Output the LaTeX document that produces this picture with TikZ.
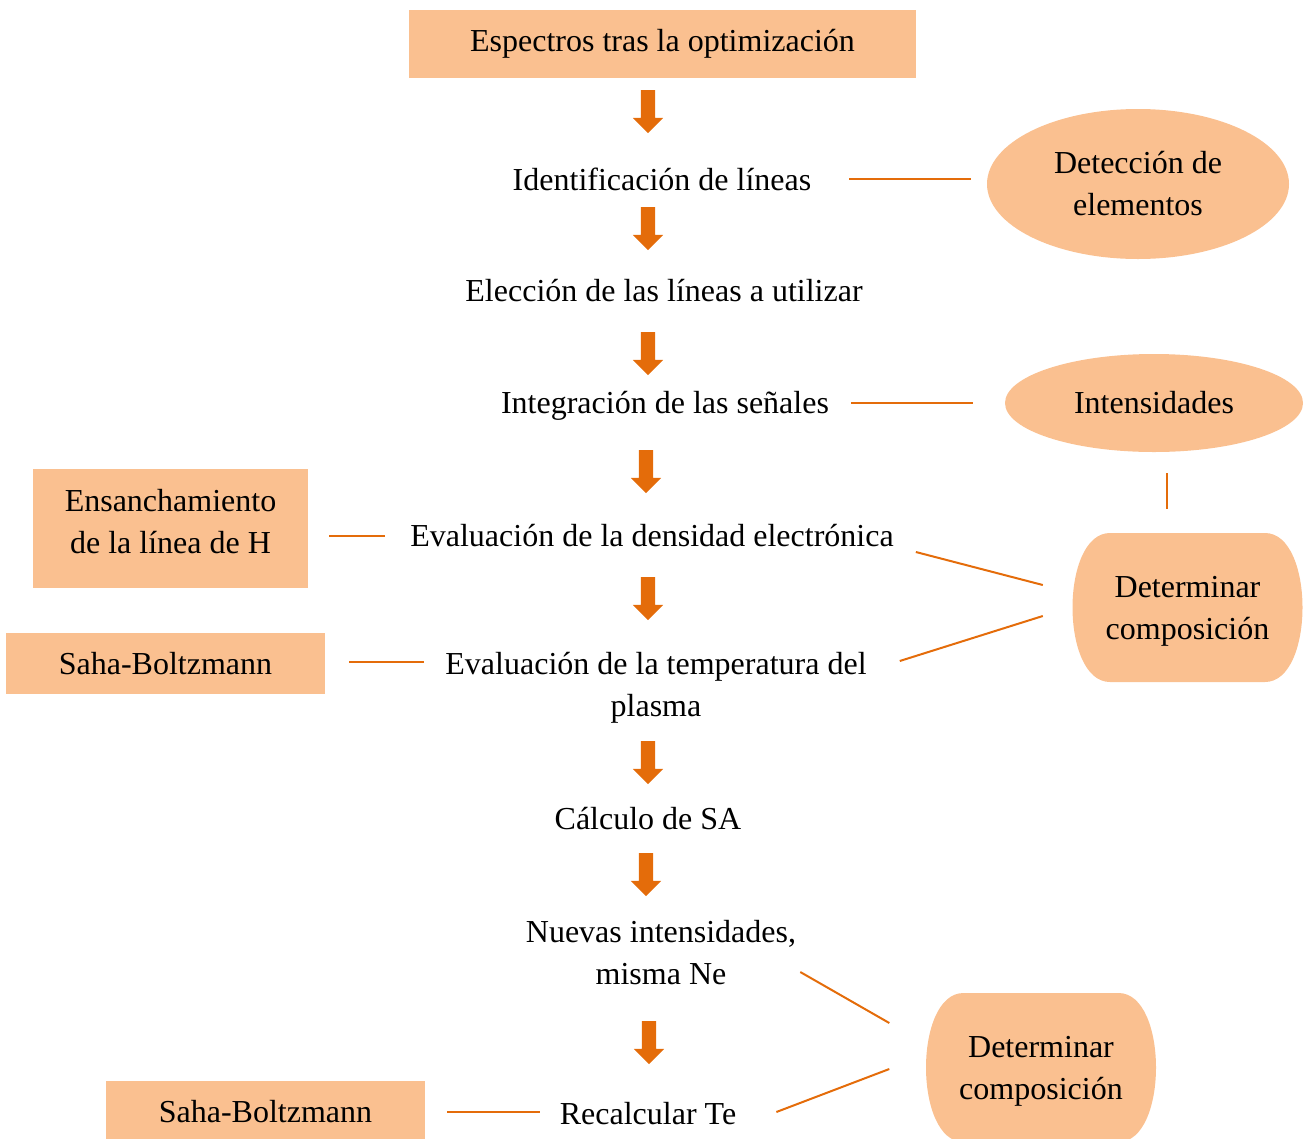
\documentclass[tikz,border=0pt]{standalone}
\usepackage{fontspec}
\setmainfont{Liberation Serif}
\usetikzlibrary{shapes.geometric,shapes.arrows}

\definecolor{peach}{HTML}{FAC090}
\definecolor{rust}{HTML}{E46C0A}

\tikzset{
  box/.style={fill=peach,inner sep=0pt,align=center},
  stage/.style={inner sep=0pt,align=center},
  oval/.style={ellipse,fill=peach,inner sep=0pt,align=center},
  barrel/.style={inner sep=0pt,align=center,minimum width=231,minimum height=149,
    path picture={\fill[peach]
      ([xshift=38]path picture bounding box.north west) -- ([xshift=-38]path picture bounding box.north east)
      .. controls ([xshift=12]path picture bounding box.north east) and ([xshift=12]path picture bounding box.south east) ..
      ([xshift=-38]path picture bounding box.south east) -- ([xshift=38]path picture bounding box.south west)
      .. controls ([xshift=-12]path picture bounding box.south west) and ([xshift=-12]path picture bounding box.north west) ..
      cycle;}},
  downarrow/.style={single arrow,rotate=-90,fill=rust,inner xsep=0pt,inner ysep=7pt,
    minimum height=43,single arrow head extend=8},
  link/.style={draw=rust,line width=2pt}
}

\begin{document}
\begin{tikzpicture}[x=1pt,y=-1pt,font=\fontsize{32}{42}\selectfont]
  \useasboundingbox (0,0) rectangle (1306,1138);
  \clip (0,0) rectangle (1306,1138);

  % main column
  \node[box,minimum width=507,minimum height=68] (espectros) at (662.5,44) {Espectros tras la optimización};
  \node[stage] (ident) at (662,179) {Identificación de líneas};
  \node[stage] (eleccion) at (664,291) {Elección de las líneas a utilizar};
  \node[stage] (integ) at (665,406) {Integración de las señales};
  \node[stage] (dens) at (652,536) {Evaluación de la densidad electrónica};
  \node[stage] (temp) at (656,687.5) {Evaluación de la temperatura del\\plasma};
  \node[stage] (calcsa) at (648,819) {Cálculo de SA};
  \node[stage] (nuevas) at (661,953) {Nuevas intensidades,\\misma Ne};
  \node[stage] (recalc) at (648,1114) {Recalcular Te};

  % arrows
  \node[downarrow] (a1) at (648,108) {};
  \node[downarrow] (a2) at (648,225) {};
  \node[downarrow] (a3) at (648,350) {};
  \node[downarrow] (a4) at (646,468) {};
  \node[downarrow] (a5) at (648,595) {};
  \node[downarrow] (a6) at (648,759) {};
  \node[downarrow] (a7) at (646,871) {};
  \node[downarrow] (a8) at (649,1039) {};

  % side boxes
  \node[oval,minimum width=302,minimum height=150] (detec) at (1138,184) {Detección de\\elementos};
  \node[oval,minimum width=298,minimum height=98] (intens) at (1154,403) {Intensidades};
  \node[box,minimum width=275,minimum height=119,
    label={[align=center,yshift=7]center:Ensanchamiento\\de la línea de H}] (ensan) at (170.5,528.5) {};
  \node[box,minimum width=319,minimum height=61] (saha1) at (165.5,663.5) {Saha-Boltzmann};
  \node[box,minimum width=319,minimum height=61] (saha2) at (265.5,1111.5) {Saha-Boltzmann};
  \node[barrel,label={[align=center,yshift=-4]center:Determinar\\composición}] (det1) at (1187.5,607.5) {};
  \node[barrel,label={[align=center,yshift=-4]center:Determinar\\composición}] (det2) at (1041,1067.5) {};

  % links
  \draw[link] ([xshift=38]ident.east) -- ([xshift=-16]ident.east -| detec.west);
  \draw[link] ([xshift=22,yshift=3]integ.east) -- ([xshift=-32,yshift=3]integ.east -| intens.west);
  \draw[link] ([xshift=13,yshift=-21]intens.south) -- ([xshift=-20.5,yshift=24]det1.north);
  \draw[link] ([xshift=-25]dens.west) -- ([xshift=21]dens.west -| ensan.east);
  \draw[link] ([xshift=22,yshift=-16]dens.east) -- ([xshift=-29,yshift=22.5]det1.west);
  \draw[link] ([xshift=33,yshift=26.5]temp.east) -- ([xshift=-29,yshift=-8.5]det1.west);
  \draw[link] ([xshift=24,yshift=2]saha1.east) -- ([xshift=-21,yshift=2]saha1.east -| temp.west);
  \draw[link] ([xshift=4,yshift=-19]nuevas.east) -- ([xshift=-36,yshift=44.5]det2.west);
  \draw[link] ([xshift=40,yshift=2]recalc.east) -- ([xshift=-36,yshift=-1.5]det2.west);
  \draw[link] ([xshift=22]saha2.east) -- ([xshift=-20]saha2.east -| recalc.west);
\end{tikzpicture}
\end{document}
